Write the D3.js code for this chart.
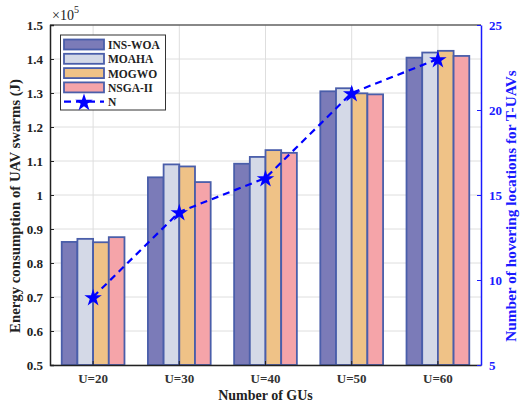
<!DOCTYPE html>
<html>
<head>
<meta charset="utf-8">
<script src="https://cdn.jsdelivr.net/npm/d3@7"></script>
<style>
  html, body { margin: 0; padding: 0; background: #fff; }
  svg { display: block; }
  text { font-family: "Liberation Serif", "Times New Roman", serif; font-weight: bold; }
</style>
</head>
<body>
<svg id="chart" width="520" height="403"></svg>
<script>
// Categories and series (energy in units of 1e5 J)
const categories = ["U=20", "U=30", "U=40", "U=50", "U=60"];
const algorithms = ["INS-WOA", "MOAHA", "MOGWO", "NSGA-II"];
const insWoa = [0.862, 1.052, 1.092, 1.305, 1.404];
const moaha  = [0.871, 1.090, 1.112, 1.314, 1.419];
const mogwo  = [0.861, 1.084, 1.132, 1.299, 1.424];
const nsga2  = [0.876, 1.038, 1.124, 1.296, 1.409];
const hoverN = [9, 14, 16, 21, 23];
const leftTicks = [0.5, 0.6, 0.7, 0.8, 0.9, 1, 1.1, 1.2, 1.3, 1.4, 1.5];
const rightTicks = [5, 10, 15, 20, 25];
const barColors = ["#7b7bb8", "#d4d9e7", "#efc287", "#f5a4a9"];

const seriesValues = [insWoa, moaha, mogwo, nsga2];

const svg = d3.select("#chart");
const m = { left: 50, right: 39, top: 25, bottom: 38 };
const W = 520, H = 403;
const x0 = m.left, x1 = W - m.right, y0 = H - m.bottom, y1 = m.top;

const x = d3.scaleBand().domain(categories).range([x0, x1]).paddingInner(0).paddingOuter(0);
const xInner = d3.scaleBand().domain(algorithms).range([0, x.bandwidth() * 0.728]);
const yL = d3.scaleLinear().domain([0.5, 1.5]).range([y0, y1]);
const yR = d3.scaleLinear().domain([5, 25]).range([y0, y1]);

// grid
const grid = svg.append("g");
grid.selectAll("line.h").data(leftTicks).join("line")
  .attr("x1", x0).attr("x2", x1)
  .attr("y1", d => yL(d)).attr("y2", d => yL(d))
  .attr("stroke", "#dedede").attr("stroke-width", 1);
grid.selectAll("line.v").data(categories).join("line")
  .attr("x1", d => x(d) + x.bandwidth() / 2).attr("x2", d => x(d) + x.bandwidth() / 2)
  .attr("y1", y1).attr("y2", y0)
  .attr("stroke", "#dedede").attr("stroke-width", 1);

// bars
const groupOffset = (x.bandwidth() - x.bandwidth() * 0.728) / 2;
const groups = svg.append("g").selectAll("g").data(categories).join("g")
  .attr("transform", d => `translate(${x(d) + groupOffset},0)`);
groups.selectAll("rect").data((c, ci) => algorithms.map((a, ai) => ({ a, ai, v: seriesValues[ai][ci] })))
  .join("rect")
  .attr("x", d => xInner(d.a))
  .attr("width", xInner.bandwidth())
  .attr("y", d => yL(d.v))
  .attr("height", d => y0 - yL(d.v))
  .attr("fill", d => barColors[d.ai])
  .attr("stroke", "#4a5eaa").attr("stroke-width", 1.8);

// axes frame
const axG = svg.append("g");
axG.append("line").attr("x1", x0).attr("x2", x1).attr("y1", y1).attr("y2", y1).attr("stroke", "#222").attr("stroke-width", 1.2);

const leftAxis = svg.append("g").attr("transform", `translate(${x0},0)`)
  .call(d3.axisLeft(yL).tickValues(leftTicks).tickSize(-4).tickPadding(7).tickFormat(d => d3.format("")(+d.toFixed(1))));
leftAxis.select(".domain").attr("stroke", "#222").attr("stroke-width", 1.5);
leftAxis.selectAll(".tick line").attr("stroke", "#222");
leftAxis.selectAll("text").attr("font-size", 13).attr("fill", "#222")
  .style("font-family", "'Liberation Serif', serif").style("font-weight", "bold");

const bottomAxis = svg.append("g").attr("transform", `translate(0,${y0})`)
  .call(d3.axisBottom(x).tickSize(-4).tickPadding(9).tickSizeOuter(0));
bottomAxis.select(".domain").attr("stroke", "#222").attr("stroke-width", 1.5);
bottomAxis.selectAll(".tick line").attr("stroke", "#222");
bottomAxis.selectAll("text").attr("font-size", 13).attr("fill", "#333")
  .style("font-family", "'Liberation Serif', serif").style("font-weight", "bold");

const rightAxis = svg.append("g").attr("transform", `translate(${x1},0)`)
  .call(d3.axisRight(yR).tickValues(rightTicks).tickSize(-4).tickPadding(8).tickSizeOuter(0));
rightAxis.select(".domain").attr("stroke", "#1a1aff").attr("stroke-width", 1.5);
rightAxis.selectAll(".tick line").attr("stroke", "#1a1aff");
rightAxis.selectAll("text").attr("font-size", 13).attr("fill", "#1a1aff")
  .style("font-family", "'Liberation Serif', serif").style("font-weight", "bold");

// exponent label
const expo = svg.append("text").attr("x", 52).attr("y", 20).attr("font-size", 14)
  .attr("fill", "#222").style("font-weight", "normal");
expo.append("tspan").text("×10");
expo.append("tspan").attr("dy", -7).attr("font-size", 10).text("5");

// N line with star markers
const cx = c => x(c) + x.bandwidth() / 2;
const nData = categories.map((c, i) => ({ c, v: hoverN[i] }));
svg.append("path").datum(nData)
  .attr("d", d3.line().x(d => cx(d.c)).y(d => yR(d.v)))
  .attr("fill", "none").attr("stroke", "#0000ff").attr("stroke-width", 2.2)
  .attr("stroke-dasharray", "7,5");
const star = d3.symbol().type(d3.symbolStar).size(95);
svg.append("g").selectAll("path").data(nData).join("path")
  .attr("d", star)
  .attr("transform", d => `translate(${cx(d.c)},${yR(d.v) + 1})`)
  .attr("fill", "#0000ff");

// axis titles
svg.append("text").attr("x", (x0 + x1) / 2).attr("y", 400).attr("text-anchor", "middle")
  .attr("font-size", 14).attr("fill", "#222").text("Number of GUs");
svg.append("text").attr("transform", `translate(17,206) rotate(-90)`)
  .attr("text-anchor", "middle").attr("dominant-baseline", "middle").attr("font-size", 14.8).attr("fill", "#222")
  .text("Energy consumption of UAV swarms (J)");
svg.append("text").attr("transform", `translate(512,206) rotate(-90)`)
  .attr("text-anchor", "middle").attr("dominant-baseline", "middle").attr("font-size", 15.3).attr("fill", "#1a1aff")
  .text("Number of hovering locations for T-UAVs");

// legend
const lg = svg.append("g").attr("transform", "translate(60,35)");
lg.append("rect").attr("x", 0.5).attr("y", 0).attr("width", 105).attr("height", 75)
  .attr("fill", "#fff").attr("stroke", "#333").attr("stroke-width", 1);
const rowY = i => 9.5 + i * 14.3;
algorithms.forEach((a, i) => {
  lg.append("rect").attr("x", 4).attr("y", rowY(i) - 5).attr("width", 40).attr("height", 10)
    .attr("fill", barColors[i]).attr("stroke", "#4a5eaa").attr("stroke-width", 1.8);
  lg.append("text").attr("x", 48).attr("y", rowY(i) + 4.5).attr("font-size", 11.5).attr("fill", "#222").text(a);
});
const ny = rowY(4);
lg.append("line").attr("x1", 4).attr("x2", 44).attr("y1", ny).attr("y2", ny)
  .attr("stroke", "#0000ff").attr("stroke-width", 2.2).attr("stroke-dasharray", "7,5");
lg.append("path").attr("d", star).attr("transform", `translate(24,${ny + 1})`).attr("fill", "#0000ff");
lg.append("text").attr("x", 48).attr("y", ny + 4.5).attr("font-size", 11.5).attr("fill", "#222").text("N");
</script>
</body>
</html>
